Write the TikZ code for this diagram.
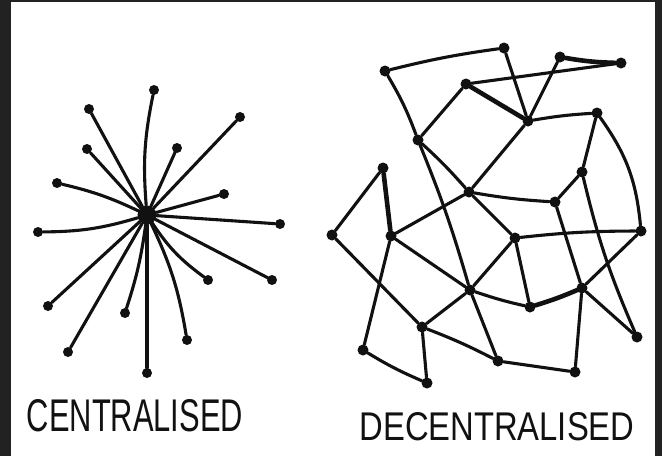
\documentclass[tikz,border=0pt]{standalone}
\usepackage{fontspec}
\usepackage{graphicx}
\newfontfamily\handfont{Liberation Sans}
\definecolor{ink}{HTML}{111111}
\definecolor{framegray}{HTML}{222222}
\tikzset{
  wire/.style={draw=ink, line width=3.1pt, line cap=round},
  thickwire/.style={wire, line width=4.6pt},
  hubdot/.style={circle, fill=ink, inner sep=0pt, minimum size=19pt},
  tipdot/.style={circle, fill=ink, inner sep=0pt, minimum size=10pt},
  netdot/.style={circle, fill=ink, inner sep=0pt, minimum size=11pt},
  caption/.style={inner sep=0pt, text=ink}
}
\begin{document}
\begin{tikzpicture}[x=1pt,y=-1pt]
\useasboundingbox (0,0) rectangle (662,456);
\fill[framegray] (0,0) rectangle (662,456);
\fill[white] (11,1.5) rectangle (655,456);

% ---------- centralised ----------
\node[hubdot] (h) at (147,215) {};
\foreach \n/\x/\y in {s1/154/90, s2/89/109, s3/240/117, s4/87/149, s5/177/148,
  s6/57/183, s7/224/194, s8/280/224, s9/38/232, s10/272/280, s11/208/280,
  s12/48/306, s13/125/313, s14/187/340, s15/68/352, s16/147/373}
  \node[tipdot] (\n) at (\x,\y) {};
\foreach \n/\b in {s1/8, s2/0, s3/0, s4/0, s5/0, s6/-6, s7/0, s8/0, s9/8,
  s10/0, s11/-10, s12/0, s13/5, s14/8, s15/0, s16/0}
  \draw[wire] (h) to[bend left=\b] (\n);

% ---------- decentralised ----------
\foreach \n/\x/\y in {A/385/71, B/504/48, C/560/57, D/621/63, E/466/84,
  F/528/121, G/597/113, H/418/140, I/469/192, J/582/172, K/555/202,
  L/383/168, M/332/235, N/391/236, O/515/238, P/641/231, Q/470/290,
  R/582/288, S/422/327, T/530/307, U/363/350, V/427/383, W/498/361,
  X/575/372, Y/637/337}
  \node[netdot] (\n) at (\x,\y) {};
\foreach \a/\b/\c in {A/B/3, A/H/5, B/F/0, C/F/0, E/D/0, E/H/0,
  F/G/3, F/I/0, G/J/0, G/P/15, H/I/3, H/Q/3, I/N/0, I/K/-3, I/O/0,
  J/K/0, J/Y/-5, K/R/0, L/M/0, M/S/0, N/Q/0, N/U/0, O/P/3, O/Q/0,
  O/T/0, P/R/0, Q/S/0, Q/T/-3, Q/W/0, R/X/0, R/Y/0, S/V/0, S/W/3,
  U/V/-4, W/X/0}
  \draw[wire] (\a) to[bend left=\c] (\b);
\foreach \a/\b/\c in {C/D/-4, E/F/0, R/T/3, L/N/0}
  \draw[thickwire] (\a) to[bend left=\c] (\b);

% ---------- captions ----------
\node[caption] (t1) at (135,416) {\resizebox{216pt}{32pt}{\handfont CENTRALISED}};
\node[caption] (t2) at (497,427) {\resizebox{275pt}{28pt}{\handfont DECENTRALISED}};
\end{tikzpicture}
\end{document}
